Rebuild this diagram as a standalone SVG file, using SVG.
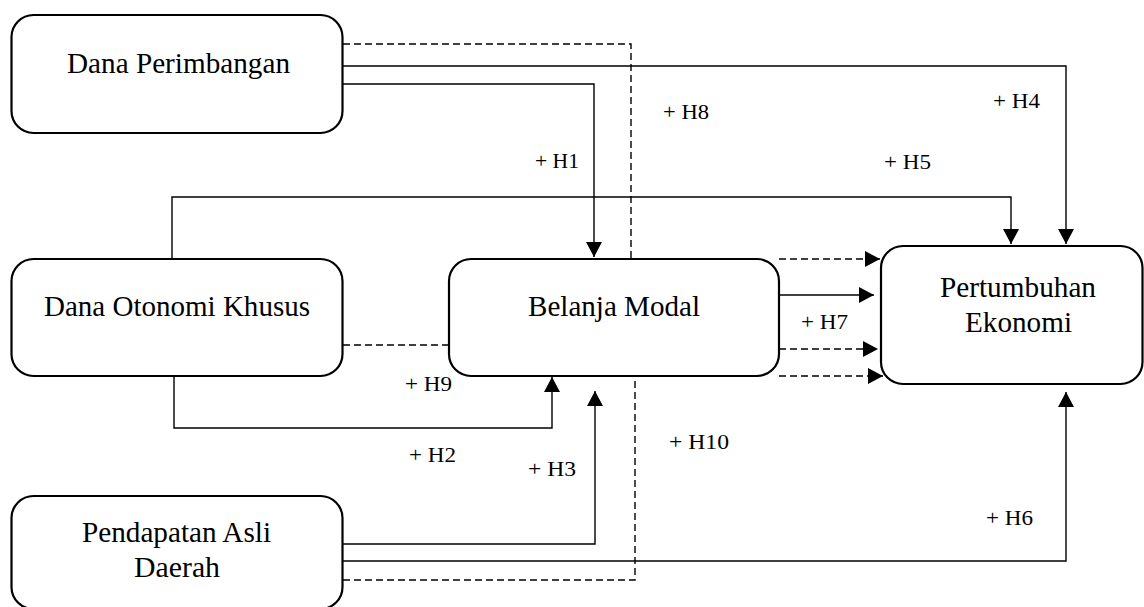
<svg xmlns="http://www.w3.org/2000/svg" width="1144" height="607" viewBox="0 0 1144 607">
<style>
.box{fill:#fff;stroke:#000;stroke-width:2.2}
.nt{font-family:"Liberation Serif","Times New Roman",serif;font-size:29px;fill:#000;text-anchor:middle}
.lb{font-family:"Liberation Serif","Times New Roman",serif;font-size:21px;fill:#000}
.c{fill:none;stroke:#000;stroke-width:1.4}
.d{fill:none;stroke:#000;stroke-width:1.4;stroke-dasharray:7,4}
</style>
<defs>
<marker id="ah" markerUnits="userSpaceOnUse" markerWidth="16" markerHeight="16" refX="15" refY="8" orient="auto">
<path d="M0,0 L15,8 L0,16 z" fill="#000"/>
</marker>
</defs>
<rect x="0" y="0" width="1144" height="607" fill="#fff"/>
<g id="connectors">
<polyline class="c" points="343,84 594,84 594,257" marker-end="url(#ah)"/>
<polyline class="c" points="343,66 1066,66 1066,244" marker-end="url(#ah)"/>
<polyline class="c" points="172,259 172,197 1011,197 1011,244" marker-end="url(#ah)"/>
<polyline class="d" points="343,44 631,44 631,259"/>
<line class="d" x1="343" y1="345" x2="449" y2="345"/>
<polyline class="c" points="174,377 174,428 552,428 552,377" marker-end="url(#ah)"/>
<polyline class="c" points="343,544 595,544 595,391" marker-end="url(#ah)"/>
<polyline class="c" points="343,561 1066,561 1066,392" marker-end="url(#ah)"/>
<polyline class="d" points="343,580 635,580 635,377"/>
<line class="d" x1="779" y1="259" x2="880" y2="259" marker-end="url(#ah)"/>
<line class="c" x1="779" y1="295" x2="874" y2="295" marker-end="url(#ah)"/>
<line class="d" x1="779" y1="349" x2="878" y2="349" marker-end="url(#ah)"/>
<line class="d" x1="779" y1="376" x2="883" y2="376" marker-end="url(#ah)"/>
</g>
<g id="labels">
<text class="lb" x="535" y="168" textLength="44" lengthAdjust="spacingAndGlyphs">+ H1</text>
<text class="lb" x="663" y="119" textLength="46" lengthAdjust="spacingAndGlyphs">+ H8</text>
<text class="lb" x="993" y="108" textLength="47" lengthAdjust="spacingAndGlyphs">+ H4</text>
<text class="lb" x="884" y="169" textLength="47" lengthAdjust="spacingAndGlyphs">+ H5</text>
<text class="lb" x="801" y="329" textLength="47" lengthAdjust="spacingAndGlyphs">+ H7</text>
<text class="lb" x="405" y="391" textLength="47" lengthAdjust="spacingAndGlyphs">+ H9</text>
<text class="lb" x="409" y="462" textLength="47" lengthAdjust="spacingAndGlyphs">+ H2</text>
<text class="lb" x="528" y="476" textLength="48" lengthAdjust="spacingAndGlyphs">+ H3</text>
<text class="lb" x="669" y="449" textLength="60" lengthAdjust="spacingAndGlyphs">+ H10</text>
<text class="lb" x="986" y="525" textLength="47" lengthAdjust="spacingAndGlyphs">+ H6</text>
</g>
<g id="dana-perimbangan">
<rect class="box" x="11.5" y="15" width="331" height="118" rx="22"/>
<text class="nt" x="178.5" y="73" textLength="223" lengthAdjust="spacingAndGlyphs">Dana Perimbangan</text>
</g>
<g id="dana-otonomi-khusus">
<rect class="box" x="11.5" y="259" width="331" height="117" rx="22"/>
<text class="nt" x="177" y="316" textLength="266" lengthAdjust="spacingAndGlyphs">Dana Otonomi Khusus</text>
</g>
<g id="pendapatan-asli-daerah">
<rect class="box" x="11.5" y="496" width="331" height="113" rx="22"/>
<text class="nt" x="176.5" y="542" textLength="189" lengthAdjust="spacingAndGlyphs">Pendapatan Asli</text>
<text class="nt" x="177" y="577" textLength="86" lengthAdjust="spacingAndGlyphs">Daerah</text>
</g>
<g id="belanja-modal">
<rect class="box" x="449" y="259" width="330" height="117" rx="22"/>
<text class="nt" x="614" y="316" textLength="172" lengthAdjust="spacingAndGlyphs">Belanja Modal</text>
</g>
<g id="pertumbuhan-ekonomi">
<rect class="box" x="881" y="246" width="261.5" height="138" rx="22"/>
<text class="nt" x="1018" y="297" textLength="156" lengthAdjust="spacingAndGlyphs">Pertumbuhan</text>
<text class="nt" x="1018.5" y="332" textLength="107" lengthAdjust="spacingAndGlyphs">Ekonomi</text>
</g>
</svg>
